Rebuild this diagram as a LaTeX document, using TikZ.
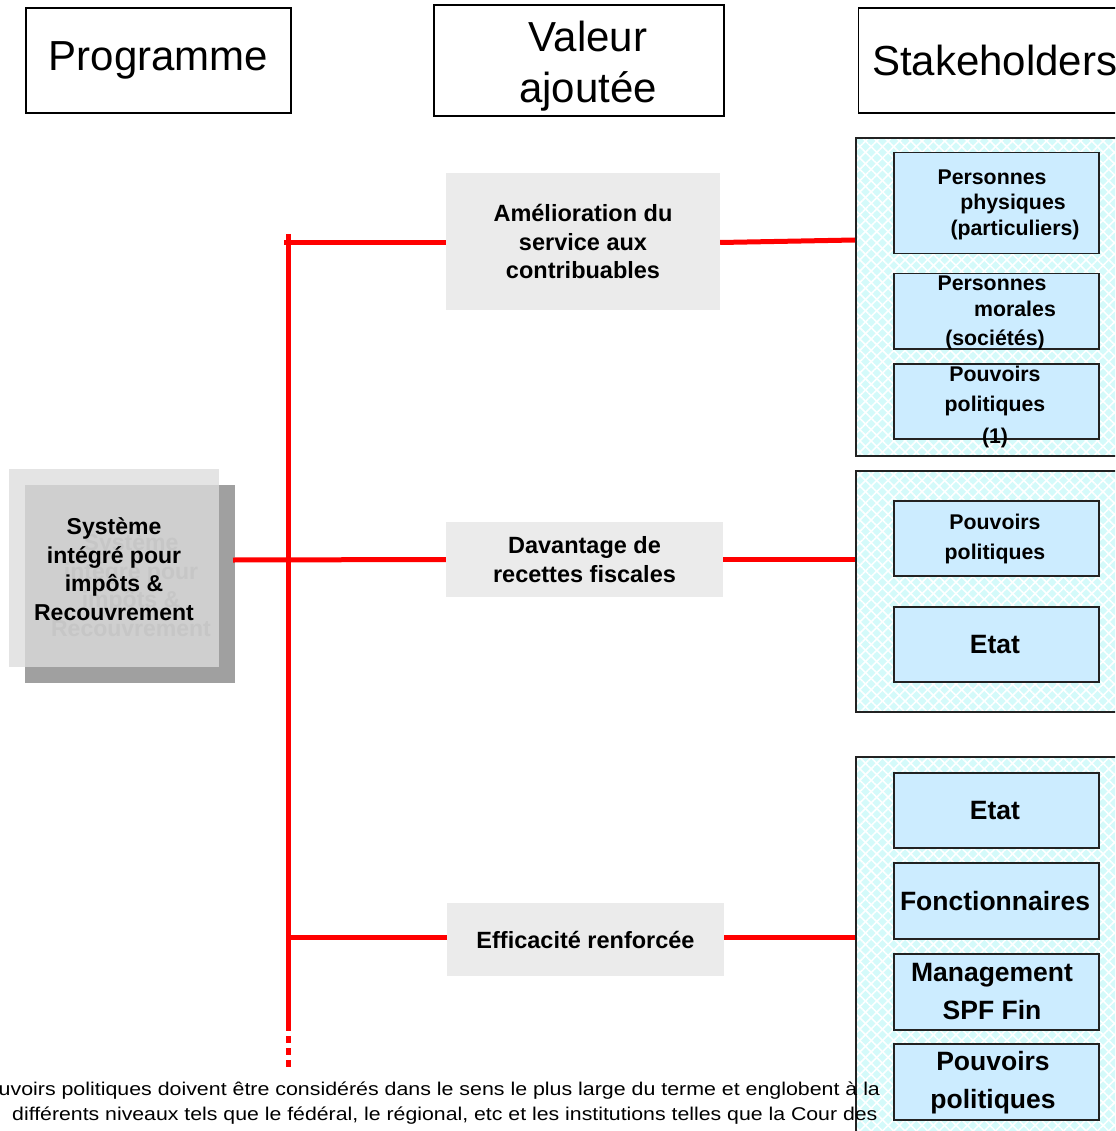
\documentclass[tikz,border=0pt]{standalone}
\usepackage{fontspec}
\setmainfont{Liberation Sans}
\usetikzlibrary{patterns.meta}
\definecolor{valgray}{HTML}{EBEBEB}
\definecolor{sbblue}{HTML}{CCECFF}
\definecolor{grpcyan}{HTML}{D4FAFA}
\definecolor{shadowgray}{HTML}{A0A0A0}
\definecolor{lightpanel}{HTML}{E4E4E4}
\definecolor{midpanel}{HTML}{CFCFCF}
\definecolor{ghost}{HTML}{C6C6C6}
\definecolor{edge}{HTML}{222222}
\tikzset{
  hdr/.style={draw=black, line width=1.3pt, font=\fontsize{42}{51}\selectfont, align=center, inner sep=0pt},
  valbox/.style={fill=valgray, inner sep=0pt, align=center, font=\bfseries\fontsize{23.5}{28.5}\selectfont},
  grp/.style={draw=edge, line width=1.8pt,
    preaction={fill=grpcyan},
    preaction={pattern={Lines[angle=45,distance=8pt,line width=1.6pt]}, pattern color=white},
    preaction={pattern={Lines[angle=-45,distance=8pt,line width=1.6pt]}, pattern color=white},
    inner sep=0pt},
  sbox/.style={draw=edge, line width=1.5pt, fill=sbblue, inner sep=0pt, anchor=north west},
  sbtxt/.style={font=\bfseries\fontsize{21.3}{26}\selectfont, inner sep=0pt},
  sbbig/.style={font=\bfseries\fontsize{26.5}{38}\selectfont, inner sep=0pt, align=center},
  redline/.style={draw=red, line width=5pt},
  systxt/.style={font=\bfseries\fontsize{23}{28.5}\selectfont, align=center, inner sep=0pt},
  foot/.style={font=\fontsize{18.5}{25}\selectfont, inner sep=0pt, anchor=base west}
}
\begin{document}
\begin{tikzpicture}[x=1pt,y=-1pt]
\clip (0,0) rectangle (1115,1131);
\fill[white] (0,0) rectangle (1115,1131);

% headers
\node[hdr, minimum width=265pt, minimum height=105pt] (prog) at (158.5,60.5) {Programme};
\node[hdr, minimum width=290pt, minimum height=111pt] (val) at (579,60.5) {};
\node[font=\fontsize{42}{51}\selectfont, align=center, inner sep=0pt] (valtxt) at (588,66.5) {Valeur\\ajoutée};
\node[hdr, minimum width=272pt, minimum height=105pt, anchor=west] (stk) at (858,60.5) {Stakeholders};

% left system box
\fill[shadowgray] (25,485) rectangle (235,683);
\fill[lightpanel] (9,469) rectangle (219,667);
\fill[midpanel] (25,485) rectangle (219,667);
\node[systxt, text=ghost] (sysg) at (131,585) {Système\\intégré pour\\impôts \&\\Recouvrement};
\node[systxt] (sys) at (114,569) {Système\\intégré pour\\impôts \&\\Recouvrement};
\coordinate (sysE) at (233,560);

% value boxes
\node[valbox, minimum width=274pt, minimum height=137pt] (amel) at (583,241.5) {Amélioration du\\service aux\\contribuables};
\node[valbox, minimum width=277pt, minimum height=75pt] (dav) at (584.5,559.5) {Davantage de\\recettes fiscales};
\node[valbox, minimum width=277pt, minimum height=73pt] (eff) at (585.5,939.5) {Efficacité renforcée};

% stakeholder groups
\node[grp, anchor=north west, minimum width=280pt, minimum height=318pt] (g1) at (855,137) {};
\node[grp, anchor=north west, minimum width=280pt, minimum height=241pt] (g2) at (855,470) {};
\node[grp, anchor=north west, minimum width=280pt, minimum height=390pt] (g3) at (855,756) {};

% footnote (drawn over group 3)
\node[foot] (fn1) at (-1.5,1095.5) {\scalebox{1.155}[1]{uvoirs politiques doivent être considérés dans le sens le plus large du terme et englobent à la}};
\node[foot] (fn2) at (12,1120.5) {\scalebox{1.15}[1]{différents niveaux tels que le fédéral, le régional, etc et les institutions telles que la Cour des}};

% group 1 boxes
\node[sbox, minimum width=205pt, minimum height=101pt] (s11) at (893,152) {};
\node[sbtxt] at (992,177) {Personnes};
\node[sbtxt] at (1013,204) {physiques};
\node[sbtxt] at (1015,230) {(particuliers)};
\node[sbox, minimum width=205pt, minimum height=75pt] (s12) at (893,273) {};
\node[sbtxt] at (992,283) {Personnes};
\node[sbtxt] at (1015,309) {morales};
\node[sbtxt] at (995,340) {(sociétés)};
\node[sbox, minimum width=205pt, minimum height=75pt] (s13) at (893,363) {};
\node[sbtxt] at (995,374) {Pouvoirs};
\node[sbtxt] at (995,406) {politiques};
\node[sbtxt] at (995,438) {(1)};

% group 2 boxes
\node[sbox, minimum width=205pt, minimum height=75pt] (s21) at (893,500) {};
\node[sbtxt] at (995,522) {Pouvoirs};
\node[sbtxt] at (995,554) {politiques};
\node[sbox, minimum width=205pt, minimum height=75pt] (s22) at (893,606) {};
\node[sbbig] at (995,645) {Etat};

% group 3 boxes
\node[sbox, minimum width=205pt, minimum height=75pt] (s31) at (893,772) {};
\node[sbbig] at (995,811) {Etat};
\node[sbox, minimum width=205pt, minimum height=76pt] (s32) at (893,862) {};
\node[sbbig] at (995,901) {Fonctionnaires};
\node[sbox, minimum width=205pt, minimum height=76pt] (s33) at (893,953) {};
\node[sbbig] at (992,992) {Management\\SPF Fin};
\node[sbox, minimum width=205pt, minimum height=76pt] (s34) at (893,1043) {};
\node[sbbig] at (993,1083) {Pouvoirs\\politiques};

% red trunk and branches
\coordinate (ttop) at (288,234);
\coordinate (tsolid) at (288,1024);
\coordinate (tbot) at (288,1068);
\coordinate (t1) at (284,242.5);
\coordinate (t3) at (288,937);
\draw[redline] (ttop) -- (tsolid);
\draw[draw=red, line width=5pt, dash pattern=on 7pt off 5pt] (tsolid) -- (tbot);
\draw[redline] (t1) -- (amel.west |- t1);
\draw[redline] (sysE) -- (dav.west);
\draw[redline] (t3) -- (eff.west |- t3);
\draw[redline] (amel.east |- t1) -- (g1.west |- 0,240);
\draw[redline] (dav.east) -- (g2.west |- dav.east);
\draw[redline] (eff.east |- t3) -- (g3.west |- t3);
\end{tikzpicture}
\end{document}
